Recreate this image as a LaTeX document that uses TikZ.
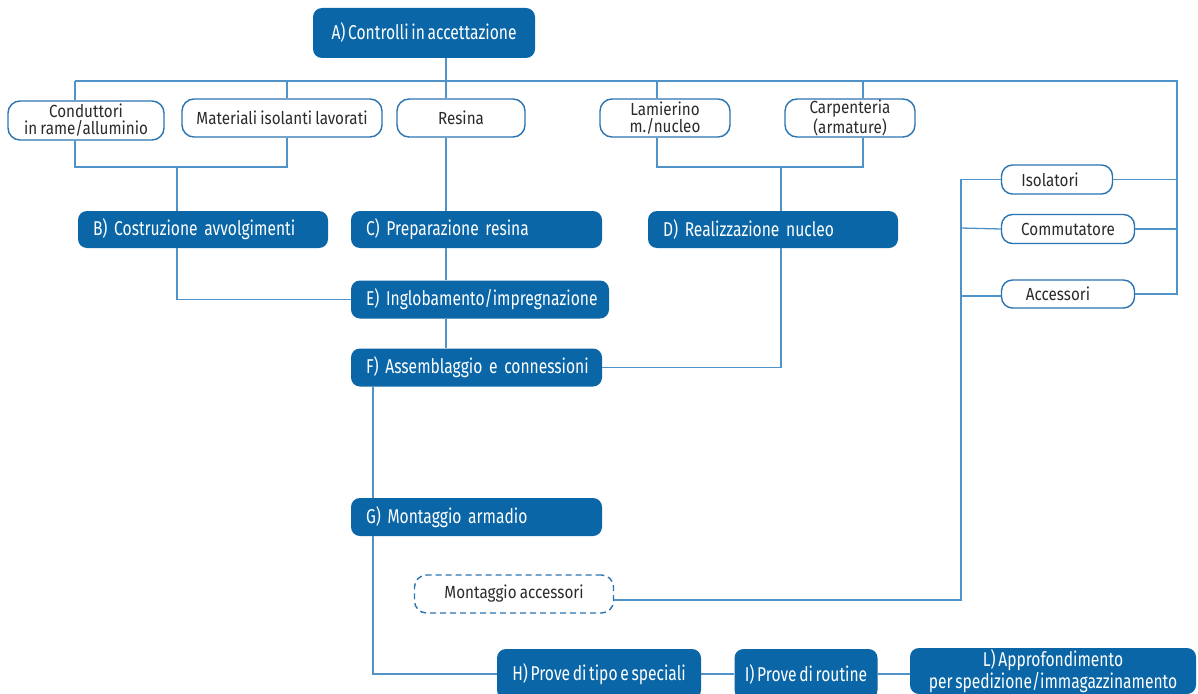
\documentclass[tikz,border=0pt]{standalone}
\usepackage{fontspec}
\setmainfont{Fira Sans}[FakeStretch=0.78, WordSpace=0.65]
\newfontfamily\lightfam{Fira Sans}[FakeStretch=0.87, WordSpace=0.8]
\definecolor{fillblue}{HTML}{0A66A6}
\definecolor{edgeblue}{HTML}{2A74B2}
\definecolor{lineblue}{HTML}{4F93C9}
\definecolor{textgray}{HTML}{2B2B2B}
\newcommand{\darkfont}{\fontsize{20}{19}\selectfont}
\newcommand{\lightfont}{\lightfam\fontsize{17.5}{17}\selectfont}
\begin{document}
\begin{tikzpicture}[x=1pt,y=-1pt,
  dark/.style={rectangle, rounded corners=9pt, fill=fillblue, text=white, inner xsep=15pt, inner ysep=0pt,
    font=\darkfont, align=center},
  darkl/.style={dark, align=left},
  light/.style={rectangle, rounded corners=12pt, draw=edgeblue, line width=1.4pt, fill=white, text=textgray,
    inner sep=0pt, font=\lightfont, align=center},
  link/.style={draw=lineblue, line width=1.3pt}]
\clip (0,0) rectangle (1198,693);
\fill[white] (0,0) rectangle (1198,693);
% coordinates of junctions
\coordinate (xa) at (446,81);
\coordinate (hl) at (75,81);
\coordinate (hr) at (1177,81);
\coordinate (jl) at (177,167);
\coordinate (jr) at (781,167);
\coordinate (vx) at (961,600);
\coordinate (fx) at (373,0);
% nodes
\node[dark, minimum width=222pt, minimum height=50pt] (A) at (424,33) {A) Controlli in accettazione};
\node[light, minimum width=156pt, minimum height=39pt] (Cond) at (86,120.5) {Conduttori\\in rame/alluminio};
\node[light, minimum width=200pt, minimum height=38pt] (Mat) at (282,118) {Materiali isolanti lavorati};
\node[light, minimum width=128pt, minimum height=38pt] (Res) at (461,118) {Resina};
\node[light, minimum width=130pt, minimum height=38pt] (Lam) at (665,118) {Lamierino\\m./nucleo};
\node[light, minimum width=130pt, minimum height=38pt] (Carp) at (850,118) {Carpenteria\\(armature)};
\node[light, minimum width=111pt, minimum height=29pt, rounded corners=11pt] (Iso) at (1057,179.5) {\hspace*{-14pt}Isolatori};
\node[light, minimum width=133pt, minimum height=29pt, rounded corners=11pt] (Comm) at (1068,229) {Commutatore};
\node[light, minimum width=133pt, minimum height=28pt, rounded corners=11pt] (Acc) at (1068,294) {\hspace*{-20pt}Accessori};
\node[darkl, minimum width=250pt, minimum height=37pt, text width=220pt] (B) at (203,229.5) {\mbox{B) Costruzione avvolgimenti}};
\node[darkl, minimum width=251pt, minimum height=37pt, text width=221pt] (C) at (476.5,229.5) {\mbox{C) Preparazione resina}};
\node[darkl, minimum width=250pt, minimum height=37pt, text width=220pt] (D) at (773,229.5) {\mbox{D) Realizzazione nucleo}};
\node[darkl, minimum width=258pt, minimum height=38pt, text width=228pt] (E) at (480,299.5) {\mbox{E) Inglobamento/impregnazione}};
\node[darkl, minimum width=251pt, minimum height=38pt, text width=221pt] (F) at (476.5,367.5) {\mbox{F) Assemblaggio e connessioni}};
\node[darkl, minimum width=251pt, minimum height=38pt, text width=221pt] (G) at (476.5,517) {\mbox{G) Montaggio armadio}};
\node[light, dashed, dash pattern=on 6pt off 4pt, minimum width=199pt, minimum height=38pt] (MA) at (514,594) {Montaggio accessori};
\node[dark, minimum width=204pt, minimum height=50pt, inner xsep=4pt] (H) at (599,674) {H) Prove di tipo e speciali};
\node[dark, minimum width=143pt, minimum height=50pt, inner xsep=4pt] (I) at (806,674) {I) Prove di routine};
\node[dark, minimum width=286pt, minimum height=46pt, inner xsep=4pt, font=\fontsize{20}{17}\selectfont] (L) at (1053,671) {L) Approfondimento\\per spedizione/immagazzinamento};
% connectors: top distribution
\draw[link] (A.south -| xa) -- (Res.north -| xa);
\draw[link] (hl) -- (hr) -- (hr |- Acc.east) -- (Acc.east);
\draw[link] (hl) -- (Cond.north -| hl);
\draw[link] (Mat.north -| 287,0) -- (287,81);
\draw[link] (Lam.north -| 657,0) -- (657,81);
\draw[link] (Carp.north -| 863,0) -- (863,81);
\draw[link] (Iso.east) -- (Iso.east -| hr);
\draw[link] (Comm.east) -- (Comm.east -| hr);
% to B
\draw[link] (Cond.south -| hl) -- (75,167) -- (287,167) -- (Mat.south -| 287,0);
\draw[link] (jl) -- (B.north -| jl);
% to C
\draw[link] (Res.south -| xa) -- (C.north -| xa);
% to D
\draw[link] (Lam.south -| 657,0) -- (657,167) -- (863,167) -- (Carp.south -| 863,0);
\draw[link] (jr) -- (D.north -| jr);
% to E, F
\draw[link] (B.south -| jl) |- (E.west);
\draw[link] (C.south -| xa) -- (E.north -| xa);
\draw[link] (E.south -| xa) -- (F.north -| xa);
\draw[link] (F.east) -| (D.south -| jr);
% to G, H
\draw[link] (F.south -| fx) -- (G.north -| fx);
\draw[link] (G.south -| fx) |- (H.west);
\draw[link] (H.east) -- (I.west);
\draw[link] (I.east) -- (L.west |- I.east);
% accessories
\draw[link] (MA.east |- vx) -- (vx) -- (vx |- Iso.west) -- (Iso.west);
\draw[link] (961,228) -- (Comm.west);
\draw[link] (961,296) -- (Acc.west |- 0,296);
\end{tikzpicture}
\end{document}
